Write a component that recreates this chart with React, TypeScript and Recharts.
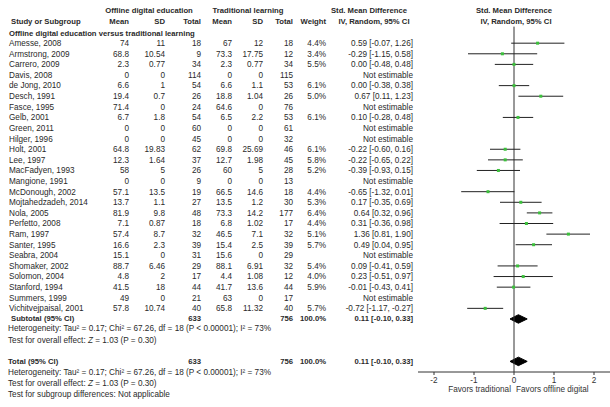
import React from 'react';
import { ComposedChart, XAxis, YAxis, Scatter, Area, ReferenceLine } from 'recharts';

// ---------- data ----------
const studies = [
  'Amesse, 2008', 'Armstrong, 2009', 'Carrero, 2009', 'Davis, 2008', 'de Jong, 2010', 'Desch, 1991',
  'Fasce, 1995', 'Gelb, 2001', 'Green, 2011', 'Hilger, 1996', 'Holt, 2001', 'Lee, 1997',
  'MacFadyen, 1993', 'Mangione, 1991', 'McDonough, 2002', 'Mojtahedzadeh, 2014', 'Nola, 2005',
  'Perfetto, 2008', 'Ram, 1997', 'Santer, 1995', 'Seabra, 2004', 'Shomaker, 2002', 'Solomon, 2004',
  'Stanford, 1994', 'Summers, 1999', 'Vichitvejpaisal, 2001',
];
const expMean = [74, 68.8, 2.3, 0, 6.6, 19.4, 71.4, 6.7, 0, 0, 64.8, 12.3, 58, 0, 57.1, 13.7, 81.9, 7.1, 57.4, 16.6, 15.1, 88.7, 4.8, 41.5, 49, 57.8];
const expSD = [11, 10.54, 0.77, 0, 1, 0.7, 0, 1.8, 0, 0, 19.83, 1.64, 5, 0, 13.5, 1.1, 9.8, 0.87, 8.7, 2.3, 0, 6.46, 2, 18, 0, 10.74];
const expN = [18, 9, 34, 114, 54, 26, 24, 54, 60, 45, 62, 37, 26, 9, 19, 27, 48, 18, 32, 39, 31, 29, 17, 44, 21, 40];
const ctlMean = [67, 73.3, 2.3, 0, 6.6, 18.8, 64.6, 6.5, 0, 0, 69.8, 12.7, 60, 0, 66.5, 13.5, 73.3, 6.8, 46.5, 15.4, 15.6, 88.1, 4.4, 41.7, 63, 65.8];
const ctlSD = [12, 17.75, 0.77, 0, 1.1, 1.04, 0, 2.2, 0, 0, 25.69, 1.98, 5, 0, 14.6, 1.2, 14.2, 1.02, 7.1, 2.5, 0, 6.91, 1.08, 13.6, 0, 11.32];
const ctlN = [18, 12, 34, 115, 53, 26, 76, 53, 61, 32, 46, 45, 28, 13, 18, 30, 177, 17, 32, 39, 29, 32, 12, 44, 17, 40];
const weights: (number | null)[] = [4.4, 3.4, 5.5, null, 6.1, 5.0, null, 6.1, null, null, 6.1, 5.8, 5.2, null, 4.4, 5.3, 6.4, 4.4, 5.1, 5.7, null, 5.4, 4.0, 5.9, null, 5.7];
const smd: (number | null)[] = [0.59, -0.29, 0.0, null, 0.0, 0.67, null, 0.1, null, null, -0.22, -0.22, -0.39, null, -0.65, 0.17, 0.64, 0.31, 1.36, 0.49, null, 0.09, 0.23, -0.01, null, -0.72];
const ciLow: (number | null)[] = [-0.07, -1.15, -0.48, null, -0.38, 0.11, null, -0.28, null, null, -0.6, -0.65, -0.93, null, -1.32, -0.35, 0.32, -0.36, 0.81, 0.04, null, -0.41, -0.51, -0.43, null, -1.17];
const ciHigh: (number | null)[] = [1.26, 0.58, 0.48, null, 0.38, 1.23, null, 0.48, null, null, 0.16, 0.22, 0.15, null, 0.01, 0.69, 0.96, 0.98, 1.9, 0.95, null, 0.59, 0.97, 0.41, null, -0.27];
const pooledEst = 0.11;
const pooledLow = -0.1;
const pooledHigh = 0.33;
const totalExpN = 633;
const totalCtlN = 756;
const totalWeight = 100.0;
const xTicks = [-2, -1, 0, 1, 2];
const heterogeneityText = 'Heterogeneity: Tau\u00B2 = 0.17; Chi\u00B2 = 67.26, df = 18 (P < 0.00001); I\u00B2 = 73%';
const overallZ = '1.03';
const overallP = '0.30';

// ---------- layout (row units on the Y axis) ----------
const ROW_GROUP_HDR = -3.1;
const ROW_COL_HDR = -2.05;
const ROW_SECTION = -0.95;
const ROW_SUBTOTAL_TXT = 25.9;
const ROW_SUBTOTAL_DIA = 26.0;
const ROW_HET1 = 26.9;
const ROW_TEST1 = 27.95;
const ROW_TOTAL = 30.0;
const ROW_HET2 = 31.0;
const ROW_TEST2 = 32.05;
const ROW_SUBGRP = 33.1;

const FONT = '"Liberation Sans", Arial, sans-serif';
const FS = 8.2;
const FSB = 7.7;
const TXT = '#2a2a2a';

const fmt2 = (v: number) => v.toFixed(2);
const ciText = (e: number, l: number, h: number) => `${fmt2(e)} [${fmt2(l)}, ${fmt2(h)}]`;

const T = ({ x, y, anchor = 'start', bold = false, children }: any) => (
  <text
    x={x}
    y={y}
    dy="0.35em"
    textAnchor={anchor}
    fontWeight={bold ? 'bold' : 'normal'}
    fontSize={bold ? FSB : FS}
    fill={TXT}
    fontFamily={FONT}
  >
    {children}
  </text>
);

const COL = { name: 9, eMean: 129, eSD: 165, eN: 201, cMean: 232, cSD: 263, cN: 293, w: 326, ci: 413 };

const renderRow = (r: number, y: number) => {
  if (r === ROW_GROUP_HDR) {
    return (
      <>
        <T x={149} y={y} anchor="middle" bold>Offline digital education</T>
        <T x={248} y={y} anchor="middle" bold>Traditional learning</T>
        <T x={369} y={y} anchor="middle" bold>Std. Mean Difference</T>
        <T x={514} y={y} anchor="middle" bold>Std. Mean Difference</T>
      </>
    );
  }
  if (r === ROW_COL_HDR) {
    return (
      <>
        <T x={11} y={y} bold>Study or Subgroup</T>
        <T x={COL.eMean} y={y} anchor="end" bold>Mean</T>
        <T x={COL.eSD} y={y} anchor="end" bold>SD</T>
        <T x={COL.eN} y={y} anchor="end" bold>Total</T>
        <T x={COL.cMean} y={y} anchor="end" bold>Mean</T>
        <T x={COL.cSD} y={y} anchor="end" bold>SD</T>
        <T x={COL.cN} y={y} anchor="end" bold>Total</T>
        <T x={COL.w} y={y} anchor="end" bold>Weight</T>
        <T x={374} y={y} anchor="middle" bold>IV, Random, 95% CI</T>
        <T x={516} y={y} anchor="middle" bold>IV, Random, 95% CI</T>
      </>
    );
  }
  if (r === ROW_SECTION) {
    return <T x={9} y={y} bold>Offline digital education versus traditional learning</T>;
  }
  if (Number.isInteger(r) && r >= 0 && r < studies.length) {
    const i = r;
    const e = smd[i];
    return (
      <>
        <T x={COL.name} y={y}>{studies[i]}</T>
        <T x={COL.eMean} y={y} anchor="end">{String(expMean[i])}</T>
        <T x={COL.eSD} y={y} anchor="end">{String(expSD[i])}</T>
        <T x={COL.eN} y={y} anchor="end">{String(expN[i])}</T>
        <T x={COL.cMean} y={y} anchor="end">{String(ctlMean[i])}</T>
        <T x={COL.cSD} y={y} anchor="end">{String(ctlSD[i])}</T>
        <T x={COL.cN} y={y} anchor="end">{String(ctlN[i])}</T>
        <T x={COL.w} y={y} anchor="end">{weights[i] == null ? '' : `${(weights[i] as number).toFixed(1)}%`}</T>
        <T x={COL.ci} y={y} anchor="end">
          {e == null ? 'Not estimable' : ciText(e, ciLow[i] as number, ciHigh[i] as number)}
        </T>
      </>
    );
  }
  if (r === ROW_SUBTOTAL_TXT || r === ROW_TOTAL) {
    return (
      <>
        <T x={r === ROW_TOTAL ? 8 : 11} y={y} bold>{r === ROW_TOTAL ? 'Total (95% CI)' : 'Subtotal (95% CI)'}</T>
        <T x={COL.eN} y={y} anchor="end" bold>{String(totalExpN)}</T>
        <T x={COL.cN} y={y} anchor="end" bold>{String(totalCtlN)}</T>
        <T x={COL.w} y={y} anchor="end" bold>{`${totalWeight.toFixed(1)}%`}</T>
        <T x={COL.ci} y={y} anchor="end" bold>{ciText(pooledEst, pooledLow, pooledHigh)}</T>
      </>
    );
  }
  if (r === ROW_HET1 || r === ROW_HET2) {
    return <T x={8} y={y}>{heterogeneityText}</T>;
  }
  if (r === ROW_TEST1 || r === ROW_TEST2) {
    return (
      <T x={8} y={y}>
        Test for overall effect: <tspan fontStyle="italic">Z</tspan>{` = ${overallZ} (P = ${overallP})`}
      </T>
    );
  }
  if (r === ROW_SUBGRP) {
    return <T x={8} y={y}>Test for subgroup differences: Not applicable</T>;
  }
  return null;
};

const yTicks = [
  ROW_GROUP_HDR, ROW_COL_HDR, ROW_SECTION,
  ...studies.map((_, i) => i),
  ROW_SUBTOTAL_TXT, ROW_HET1, ROW_TEST1, ROW_TOTAL, ROW_HET2, ROW_TEST2, ROW_SUBGRP,
];

const YTick = (props: any) => {
  const { y, payload } = props;
  return <g>{renderRow(payload.value, y)}</g>;
};

const XTick = (props: any) => {
  const { x, y, payload } = props;
  return (
    <g>
      <text x={x} y={y + 3} dy="0.35em" textAnchor="middle" fontSize={FS} fill="#333" fontFamily={FONT}>
        {String(payload.value)}
      </text>
      {payload.value === 0 && (
        <>
          <text x={x - 3} y={y + 12.3} dy="0.35em" textAnchor="end" fontSize={FS} fill="#333" fontFamily={FONT}>
            Favors traditional
          </text>
          <text x={x + 2} y={y + 12.3} dy="0.35em" textAnchor="start" fontSize={FS} fill="#333" fontFamily={FONT}>
            Favors offline digital
          </text>
        </>
      )}
    </g>
  );
};

const points = studies
  .map((_, i) => ({ x: smd[i], y: i, lo: ciLow[i], hi: ciHigh[i] }))
  .filter((p) => p.x != null) as { x: number; y: number; lo: number; hi: number }[];

const diamond = (row: number) => [
  { x: pooledLow, d: [row, row] },
  { x: pooledEst, d: [row - 0.4, row + 0.4] },
  { x: pooledHigh, d: [row, row] },
];

const Square = (p: any) => <rect x={p.cx - 1.5} y={p.cy - 1.5} width={3} height={3} fill="#3cc03c" />;

export default function App() {
  return (
    <div style={{ position: 'absolute', left: 0, top: 0, background: '#fff' }}>
      <ComposedChart width={610} height={407} margin={{ top: 5, right: 0, bottom: 5, left: 416 }}>
        <XAxis
          type="number"
          dataKey="x"
          domain={[-2.4, 2.4]}
          allowDataOverflow
          ticks={xTicks}
          interval={0}
          tickSize={3}
          height={30}
          stroke="#333"
          tick={<XTick />}
        />
        <YAxis
          type="number"
          dataKey="y"
          domain={[-3.6, 31.0]}
          allowDataOverflow
          reversed
          ticks={yTicks}
          interval={0}
          width={2}
          axisLine={false}
          tickLine={false}
          tick={YTick}
        />
        <ReferenceLine segment={[{ x: 0, y: -1.56 }, { x: 0, y: 31.0 }]} stroke="#333" ifOverflow="visible" />
        {points.map((p) => (
          <ReferenceLine
            key={p.y}
            segment={[{ x: p.lo, y: p.y }, { x: p.hi, y: p.y }]}
            stroke="#222"
            strokeWidth={1}
            ifOverflow="visible"
          />
        ))}
        <Scatter data={points} shape={<Square />} isAnimationActive={false} />
        <Area
          data={diamond(ROW_SUBTOTAL_DIA)}
          dataKey="d"
          type="linear"
          fill="#000"
          fillOpacity={1}
          stroke="#000"
          dot={false}
          activeDot={false}
          isAnimationActive={false}
        />
        <Area
          data={diamond(ROW_TOTAL)}
          dataKey="d"
          type="linear"
          fill="#000"
          fillOpacity={1}
          stroke="#000"
          dot={false}
          activeDot={false}
          isAnimationActive={false}
        />
      </ComposedChart>
    </div>
  );
}
